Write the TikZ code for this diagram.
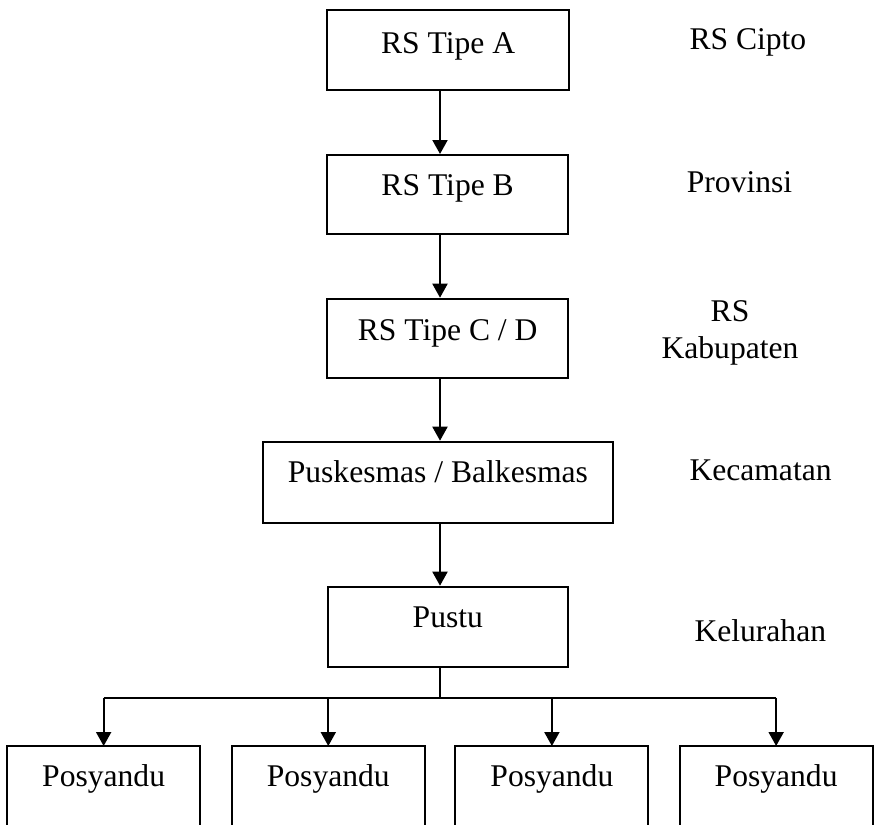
\documentclass[tikz,border=0pt]{standalone}
\usepackage{fontspec}
\setmainfont{Liberation Serif}
\usetikzlibrary{arrows.meta}
\begin{document}
\begin{tikzpicture}[x=1pt,y=-1pt,
  every node/.style={inner sep=0pt, font=\fontsize{31.6pt}{36.6pt}\selectfont},
  box/.style={draw, line width=2pt, rectangle, anchor=north},
  openbox/.style={rectangle, anchor=north, minimum width=192.7pt, text height=40pt, text depth=39pt},
  lbl/.style={anchor=base west},
  conn/.style={line width=2pt},
  arr/.style={line width=2pt, -{Triangle[length=14pt,width=15pt]}}]
\useasboundingbox (0,0) rectangle (879,825);
% main column
\node[box, minimum width=241.7pt, text height=42.7pt, text depth=37.3pt] (a) at (448.15,9.3) {RS Tipe A};
\node[box, minimum width=240.7pt, text height=40.3pt, text depth=39pt] (b) at (447.65,154) {RS Tipe B};
\node[box, minimum width=240.7pt, text height=41.6pt, text depth=38pt] (cd) at (447.65,297.7) {RS Tipe C / D};
\node[box, minimum width=349.2pt, text height=40.3pt, text depth=41pt] (pk) at (437.9,440.7) {Puskesmas / Balkesmas};
\node[box, minimum width=240.3pt, text height=40.3pt, text depth=40pt] (pu) at (447.85,585.7) {Pustu};
% stem coordinate
\coordinate (s) at (440,0);
\draw[arr] (a.south -| s) -- (b.north -| s);
\draw[arr] (b.south -| s) -- (cd.north -| s);
\draw[arr] (cd.south -| s) -- (pk.north -| s);
\draw[arr] (pk.south -| s) -- (pu.north -| s);
% posyandu
\node[openbox] (p1) at (103.65,746) {Posyandu};
\node[openbox] (p2) at (328.3,746) {Posyandu};
\node[openbox] (p3) at (551.9,746) {Posyandu};
\node[openbox] (p4) at (776.15,746) {Posyandu};
\foreach \p in {p1,p2,p3,p4}{
  \draw[conn] (\p.south west) -- (\p.north west) -- (\p.north east) -- (\p.south east);
}
\coordinate (j) at (440,697.7);
\draw[conn] (pu.south -| s) -- (j);
\draw[conn] (p1.north |- j) -- (p4.north |- j);
\foreach \p in {p1,p2,p3,p4}{
  \draw[arr] (\p.north |- j) -- (\p.north);
}
% right labels
\node[lbl] (l1) at (689.3,49.3) {RS Cipto};
\node[lbl] (l2) at (686.7,192.7) {Provinsi};
\node[anchor=base] (l3a) at (730,321.7) {RS};
\node[anchor=base] (l3b) at (730,358.3) {Kabupaten};
\node[lbl] (l4) at (689.3,480) {Kecamatan};
\node[lbl] (l5) at (694.3,641.7) {Kelurahan};
\end{tikzpicture}
\end{document}
